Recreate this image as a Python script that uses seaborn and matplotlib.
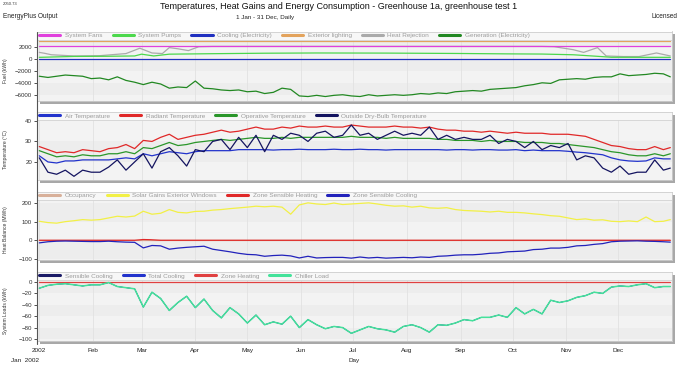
import matplotlib
matplotlib.use("Agg")
import matplotlib.pyplot as plt
from matplotlib.patches import Rectangle
from matplotlib.lines import Line2D
import seaborn as sns
import pandas as pd

# day offsets from 1 Jan 2002 at which the daily curves were read (every 5 days)
days = list(range(0, 365, 5)) + [364]

# --- Fuel (kWh)
generation = [-2900, -3100, -2900, -2700, -2800, -2900, -3300, -3200, -3500, -3000,
              -3600, -3900, -4300, -3900, -4200, -4900, -4700, -4800, -3700, -4900,
              -5000, -5200, -5300, -5200, -5500, -5400, -5800, -5600, -4900, -5100,
              -6200, -6300, -6100, -6300, -6100, -6000, -6200, -6300, -6000, -6200,
              -6100, -6000, -6100, -6000, -5800, -5900, -5700, -5800, -5500, -5400,
              -5300, -5400, -5100, -5000, -4900, -4800, -4500, -4300, -4000, -4100,
              -3500, -3400, -3300, -3400, -3100, -3000, -3000, -2500, -2800, -2700,
              -2600, -2400, -2500, -3000]
pump_days = [0, 20, 40, 55, 59, 66, 75, 100, 130, 160, 200, 240, 270, 290, 308, 322, 330, 364]
pumps = [270, 420, 450, 500, 800, 500, 800, 880, 960, 1000, 980, 920, 850, 820, 700, 440, 280, 270]
rej_days = [0, 3, 7, 20, 35, 50, 58, 65, 71, 75, 80, 86, 92, 100, 290, 297, 308, 314, 322, 327, 337, 346, 356, 364]
heat_rejection = [1100, 950, 700, 500, 550, 900, 1800, 1000, 900, 1900, 1700, 1400, 2050, 2100,
                  2100, 2050, 1550, 1100, 1900, 500, 400, 400, 1000, 500]
flat_days = [0, 364]
fans = [2100, 2100]
cooling_elec = [60, 60]
ext_lighting = [2950, 2950]

# --- Temperature (C)
air_temp = [23, 20, 19.5, 20.5, 20.5, 21, 21, 21, 21, 21.5,
            22, 21.5, 24, 23, 24, 25, 24.5, 24, 25, 25.5,
            25.5, 25.5, 25.5, 26, 26, 26, 26, 25.8, 26, 26,
            26.2, 26, 26, 26, 26.2, 26, 26, 26.2, 26, 26,
            25.8, 26, 26, 26, 26, 26, 26, 25.8, 26, 26,
            25.8, 26, 26, 25.8, 25.8, 26, 25.5, 25.8, 25.5, 25.5,
            25.5, 25.2, 24.8, 24.5, 24, 23.5, 22, 21, 20.5, 20.3,
            20.5, 22, 21.5, 21.5]
radiant_temp = [27.5, 26, 24.5, 25, 24.5, 26, 25.5, 25, 26.5, 27,
                28.5, 26.5, 30.5, 30, 32, 33.5, 31, 32, 33, 33.5,
                34.5, 35.5, 34.5, 35, 36, 37, 36, 36, 37, 36.5,
                37.5, 37, 37, 37.5, 37, 37, 38, 37.5, 37, 37,
                37, 37.5, 37, 37, 36.5, 37, 36, 35.5, 35.5, 35,
                35, 34.5, 35, 34.5, 34, 34.5, 34, 34, 34, 33.5,
                33.5, 33.5, 33, 32.5, 31, 29.5, 28, 27.5, 26.5, 26,
                26, 27.5, 26, 27]
operative_temp = [25.5, 24, 22.5, 23, 22.5, 23.5, 23, 23, 24, 24,
                  25, 24, 27, 26.5, 28, 29.5, 28, 28.5, 29.5, 30,
                  30.5, 31, 30.5, 31, 31.5, 32, 31.5, 31.5, 32, 31.5,
                  32, 32, 32, 32, 32, 32, 32.5, 32, 32, 32,
                  31.5, 32, 31.5, 31.5, 31.5, 31.5, 31, 31, 30.5, 30.5,
                  30.5, 30, 30.5, 30, 30, 30, 29.5, 29.5, 29.5, 29,
                  29, 28.5, 28, 27.5, 27, 26, 25, 24.5, 23.5, 23,
                  23, 24, 23, 24]
outside_db = [22, 15, 14, 16, 13, 16, 15, 15, 17.5, 21,
              16, 20, 24, 17, 25, 27, 23, 18, 26, 25,
              30, 31, 26, 32, 27, 33, 25, 33, 31, 34,
              33, 30, 34, 35, 32, 33, 38, 33, 34, 31,
              33, 35, 33, 34, 33, 37, 31, 33, 31, 32,
              31, 31, 33, 29, 31, 30, 27, 30, 26, 28,
              27, 29, 21, 23, 22, 17, 15, 18, 14, 15,
              15, 21, 16, 17]

# --- Heat Balance (MWh)
solar_gains = [102, 95, 92, 100, 105, 111, 108, 111, 120, 129,
               125, 130, 156, 140, 145, 165, 150, 147, 155, 156,
               162, 165, 170, 174, 178, 183, 180, 183, 178, 140,
               190, 201, 195, 192, 200, 192, 195, 198, 201, 195,
               188, 183, 185, 178, 183, 174, 172, 175, 165, 160,
               158, 156, 152, 156, 150, 150, 147, 142, 138, 132,
               129, 120, 111, 115, 108, 110, 102, 100, 104, 100,
               125, 100, 102, 111]
zone_sens_cooling = [-14, -8, -5, -4, -5, -6, -7, -7, -5, -8,
                     -10, -11, -41, -28, -30, -48, -42, -38, -35, -32,
                     -48, -55, -62, -70, -76, -78, -86, -82, -80, -84,
                     -95, -86, -95, -93, -92, -92, -96, -90, -95, -92,
                     -96, -94, -92, -94, -90, -92, -86, -84, -80, -78,
                     -78, -75, -70, -68, -62, -60, -58, -50, -48, -42,
                     -42, -38, -30, -28, -22, -18, -8, -5, -4, -3,
                     -5, -6, -8, -10]
heat_days = [0, 55, 60, 64, 70, 85, 90, 364]
zone_sens_heating = [0, 0, 4, 3, 0, 0, 0, 0]
occupancy = [0, 0]

# --- System Loads (kWh); sensible / total cooling coincide with the chiller load
chiller_load = [-11, -6, -4, -3, -5, -7, -5, -5, -1, -8,
                -10, -12, -44, -18, -29, -50, -36, -25, -45, -30,
                -50, -63, -45, -56, -72, -58, -75, -70, -74, -60,
                -80, -66, -75, -82, -78, -80, -90, -84, -78, -82,
                -84, -88, -78, -75, -80, -88, -75, -76, -72, -66,
                -68, -62, -62, -58, -62, -45, -56, -48, -56, -32,
                -36, -33, -27, -24, -18, -20, -9, -7, -8, -5,
                -3, -10, -8, -8]
zone_heating = [0, 0]

month_labels = ["2002", "Feb", "Mar", "Apr", "May", "Jun", "Jul", "Aug", "Sep", "Oct", "Nov", "Dec"]

start = pd.Timestamp("2002-01-01")


def to_dates(d):
    return start + pd.to_timedelta(d, unit="D")


sns.set_theme(style="white")
plt.rcParams["font.family"] = ["Liberation Sans", "DejaVu Sans"]

W, H = 680, 366
fig = plt.figure(figsize=(W / 100, H / 100), dpi=100)
left, right = 37.3, 671.7
boxes = [(31.5, 101), (111.7, 180), (191.5, 260), (271.7, 341)]
x0 = start - pd.Timedelta(days=1.15)
x1 = start + pd.Timedelta(days=364.8)
months = pd.date_range("2002-01-01", "2002-12-01", freq="MS")

panels = [
    dict(ylim=(-7050, 4600), yticks=[-6000, -4000, -2000, 0, 2000], ylabel="Fuel (kWh)",
         series=[("System Fans", "#e040dc", flat_days, fans),
                 ("System Pumps", "#4cd84c", pump_days, pumps),
                 ("Cooling (Electricity)", "#2030c0", flat_days, cooling_elec),
                 ("Exterior lighting", "#e3a35c", flat_days, ext_lighting),
                 ("Heat Rejection", "#aaaaaa", rej_days, heat_rejection),
                 ("Generation (Electricity)", "#228822", days, generation)],
         order=[4, 1, 2, 3, 0, 5]),
    dict(ylim=(11.2, 44.5), yticks=[20, 30, 40], ylabel="Temperature (°C)",
         series=[("Air Temperature", "#2233cc", days, air_temp),
                 ("Radiant Temperature", "#e02828", days, radiant_temp),
                 ("Operative Temperature", "#2a962a", days, operative_temp),
                 ("Outside Dry-Bulb Temperature", "#141460", days, outside_db)],
         order=[0, 1, 2, 3]),
    dict(ylim=(-106, 262), yticks=[-100, 0, 100, 200], ylabel="Heat Balance (MWh)",
         series=[("Occupancy", "#d8b09a", flat_days, occupancy),
                 ("Solar Gains Exterior Windows", "#f2f046", days, solar_gains),
                 ("Zone Sensible Heating", "#e02828", heat_days, zone_sens_heating),
                 ("Zone Sensible Cooling", "#2222bb", days, zone_sens_cooling)],
         order=[0, 1, 2, 3]),
    dict(ylim=(-103.5, 18), yticks=[-100, -80, -60, -40, -20, 0], ylabel="System Loads (kWh)",
         series=[("Sensible Cooling", "#1a1a66", days, chiller_load),
                 ("Total Cooling", "#2233cc", days, chiller_load),
                 ("Zone Heating", "#e04040", flat_days, zone_heating),
                 ("Chiller Load", "#44e29a", days, chiller_load)],
         order=[0, 1, 2, 3]),
]

for (top, bot), p in zip(boxes, panels):
    h = bot - top
    ax = fig.add_axes([left / W, 1 - bot / H, (right - left) / W, h / H])
    # drop shadow
    fig.patches.append(Rectangle(((left + 3) / W, 1 - (bot + 3) / H), (right - left) / W, h / H,
                                 transform=fig.transFigure, facecolor="#a8a8a8",
                                 edgecolor="none", zorder=-1))
    ax.set_facecolor("#ededed")
    yt = p["yticks"]
    step = yt[1] - yt[0]
    for i, v in enumerate([yt[0] - step] + yt):
        if i % 2 == 0:
            ax.axhspan(v, v + step, color="#f3f3f3", lw=0, zorder=0)
    for i in p["order"]:
        name, col, d, vals = p["series"][i]
        if name in ("Sensible Cooling", "Total Cooling"):
            lw = 0.5
        elif name == "Chiller Load":
            lw = 1.1
        else:
            lw = 0.9
        sns.lineplot(x=to_dates(d), y=vals, ax=ax, color=col, lw=lw, legend=False)
    ax.set_xlim(x0, x1)
    ax.set_ylim(*p["ylim"])
    ax.set_yticks(yt)
    ax.set_xticks(months)
    ax.grid(axis="x", color="#e2e2e2", lw=0.6)
    ax.grid(axis="y", visible=False)
    ax.set_axisbelow(True)
    for s in ["top", "right", "bottom"]:
        ax.spines[s].set_color("#cccccc")
        ax.spines[s].set_linewidth(0.6)
    ax.spines["left"].set_visible(False)
    ax.tick_params(axis="y", left=True, length=2.4, width=0.6, pad=1.4, labelsize=4.4,
                   colors="#333333")
    ax.tick_params(axis="x", bottom=False, length=0)
    ax.set_xticklabels([])
    ax.set_xlabel("")
    ax.set_ylabel(p["ylabel"], fontsize=3.6, color="#333333")
    ax.yaxis.set_label_coords((8 - left) / (right - left), 0.44)
    # legend strip
    band = 8.3 / h
    ax.add_patch(Rectangle((0, 1 - band), 1, band, transform=ax.transAxes,
                           facecolor="#f7f7f7", edgecolor="#d2d2d2", lw=0.6, zorder=4))
    handles = [Line2D([], [], color=c, lw=2.2) for _, c, _, _ in p["series"]]
    labels = [n for n, _, _, _ in p["series"]]
    ax.legend(handles, labels, loc="center left", ncol=len(labels),
              bbox_to_anchor=(2 / (right - left), 1 - 4.1 / h), frameon=False,
              fontsize=4.6, handlelength=3.3, handletextpad=0.7, columnspacing=1.6,
              borderpad=0, borderaxespad=0, labelcolor="#9c9c9c")

ax.set_xticklabels(month_labels)
ax.tick_params(axis="x", labelsize=4.6, pad=5, colors="#222222")

# shared left axis line
fig.lines.append(Line2D([left / W, left / W], [1 - 31.5 / H, 1 - 344 / H],
                        transform=fig.transFigure, color="#555555", lw=0.8))

fig.text(3 / W, 1 - 4 / H, "2050.73", fontsize=3, color="#333333", va="center")
fig.text(339 / W, 1 - 6.5 / H,
         "Temperatures, Heat Gains and Energy Consumption - Greenhouse 1a, greenhouse test 1",
         fontsize=6.5, color="#111111", ha="center", va="center")
fig.text(3 / W, 1 - 17 / H, "EnergyPlus Output", fontsize=4.7, color="#222222", va="center")
fig.text(265 / W, 1 - 17 / H, "1 Jan - 31 Dec, Daily", fontsize=4.5, color="#222222",
         ha="center", va="center")
fig.text(677 / W, 1 - 17 / H, "Licensed", fontsize=4.7, color="#222222", ha="right", va="center")
fig.text(25 / W, 1 - 360.5 / H, "Jan  2002", fontsize=4.6, color="#222222", ha="center", va="center")
fig.text(354.5 / W, 1 - 360.5 / H, "Day", fontsize=4.6, color="#222222", ha="center", va="center")

fig.savefig("out.png", dpi=100, facecolor="white")
